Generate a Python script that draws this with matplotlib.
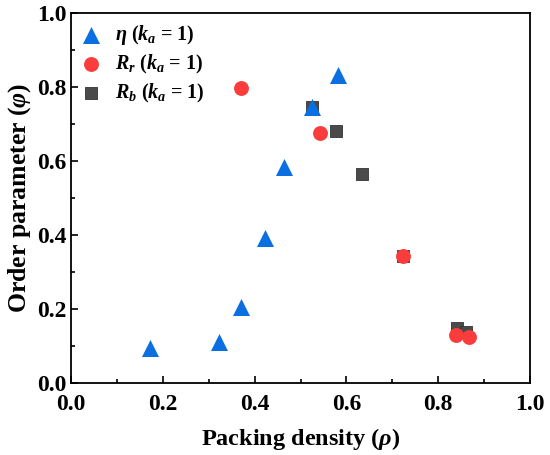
import matplotlib.pyplot as plt
from matplotlib.ticker import MultipleLocator

plt.rcParams['font.family'] = 'Liberation Serif'
plt.rcParams['font.weight'] = 'bold'
plt.rcParams['mathtext.fontset'] = 'custom'
plt.rcParams['mathtext.rm'] = 'Liberation Serif:bold'
plt.rcParams['mathtext.it'] = 'Liberation Serif:bold:italic'
plt.rcParams['mathtext.bf'] = 'Liberation Serif:bold'

eta_x = [0.172, 0.322, 0.371, 0.423, 0.463, 0.525, 0.582]
eta_y = [0.095, 0.111, 0.205, 0.391, 0.583, 0.745, 0.832]

rr_x = [0.371, 0.543, 0.724, 0.838, 0.867]
rr_y = [0.798, 0.675, 0.343, 0.130, 0.124]

rb_x = [0.525, 0.577, 0.635, 0.724, 0.840, 0.860]
rb_y = [0.745, 0.681, 0.565, 0.343, 0.148, 0.139]

fig = plt.figure(figsize=(5.5, 4.55), dpi=100)
ax = fig.add_axes([71/550, 1-383/455, 459/550, 370/455])

ax.scatter(eta_x, eta_y, marker='^', s=150, c='#0a6fe0', linewidths=0,
           label=r'$\eta$ ($k_a$ = 1)', zorder=4)
ax.scatter(rr_x, rr_y, marker='o', s=115, c='#fa3c3c', linewidths=0,
           label=r'$R_r$ ($k_a$ = 1)', zorder=3)
ax.scatter(rb_x, rb_y, marker='s', s=85, c='#4a4a4a', edgecolors='#333333',
           linewidths=0.6, label=r'$R_b$ ($k_a$ = 1)', zorder=2)

ax.set_xlim(0, 1)
ax.set_ylim(0, 1)
ax.xaxis.set_major_locator(MultipleLocator(0.2))
ax.xaxis.set_minor_locator(MultipleLocator(0.1))
ax.yaxis.set_major_locator(MultipleLocator(0.2))
ax.yaxis.set_minor_locator(MultipleLocator(0.1))
ax.tick_params(which='both', direction='in', labelsize=17)
ax.tick_params(which='major', length=5, width=1.2)
ax.tick_params(axis='y', which='major', pad=3)
ax.tick_params(axis='x', which='major', pad=8)
ax.tick_params(which='minor', length=3, width=1.2)
for s in ax.spines.values():
    s.set_linewidth(1.3)

ax.set_xlabel(r'Packing density ($\rho$)', fontsize=17.5, fontweight='bold',
              labelpad=8)
ax.set_ylabel(r'Order parameter ($\varphi$)', fontsize=18.5, fontweight='bold',
              labelpad=3)

ax.legend(loc='upper left', frameon=False, fontsize=14.5, handlelength=1.0,
          handletextpad=0.7, borderaxespad=0.1, labelspacing=0.3, borderpad=0.4)

fig.savefig('out.png', dpi=100)
